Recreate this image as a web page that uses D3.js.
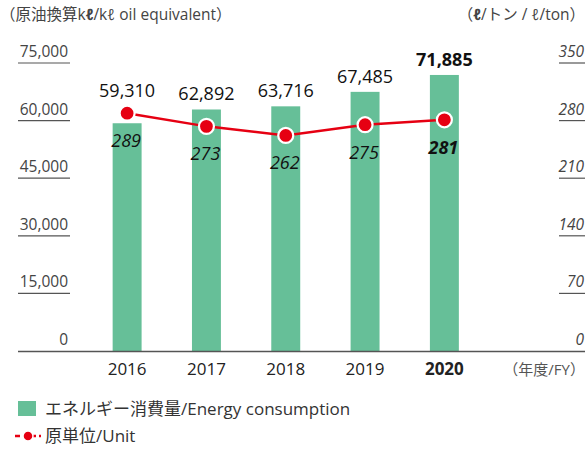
<!DOCTYPE html>
<html><head><meta charset="utf-8">
<script src="https://cdn.jsdelivr.net/npm/d3@7"></script>
<style>body{margin:0;background:#fff}svg{display:block}text{font-family:"Open Sans","Noto Sans CJK JP",sans-serif}</style>
</head><body>
<script>
const years = ["2016","2017","2018","2019","2020"];
const energy = [59310, 62892, 63716, 67485, 71885];
const unit = [289, 273, 262, 275, 281];
const leftTicks = [0, 15000, 30000, 45000, 60000, 75000];
const rightTicks = [0, 70, 140, 210, 280, 350];

const W = 585, H = 450;
const svg = d3.select("body").append("svg").attr("width", W).attr("height", H);
const green = "#66bf98", red = "#e60012";
const jp = '"Noto Sans CJK JP","Open Sans",sans-serif';

const x = d3.scaleBand().domain(years).range([87.5, 484]).paddingInner(0.635).paddingOuter(0.317);
const yL = d3.scaleLinear().domain([0, 75000]).range([351, 63]);
const yR = d3.scaleLinear().domain([0, 350]).range([351, 63]);
const fmt = d3.format(",");

const lt = svg.append("g");
leftTicks.forEach(t => {
  if (t !== 0) lt.append("line").attr("x1", 18).attr("x2", 70).attr("y1", yL(t)).attr("y2", yL(t)).attr("stroke", "#555").attr("stroke-width", 1.2);
  lt.append("text").attr("x", 68).attr("y", yL(t) - 6).attr("text-anchor", "end").attr("font-size", 15.5).attr("fill", "#444").text(fmt(t));
});
rightTicks.forEach(t => {
  if (t !== 0) lt.append("line").attr("x1", 559).attr("x2", 585).attr("y1", yR(t)).attr("y2", yR(t)).attr("stroke", "#555").attr("stroke-width", 1.2);
  lt.append("text").attr("x", 584).attr("y", yR(t) - 6).attr("text-anchor", "end").attr("font-size", 15.5).attr("font-style", "italic").attr("fill", "#444").text(t);
});

svg.append("g").selectAll("rect").data(years).join("rect")
  .attr("x", d => x(d)).attr("width", x.bandwidth())
  .attr("y", (d, i) => yL(energy[i])).attr("height", (d, i) => yL(0) - yL(energy[i]))
  .attr("fill", green);

svg.append("line").attr("x1", 18).attr("x2", 585).attr("y1", 351.5).attr("y2", 351.5).attr("stroke", "#555").attr("stroke-width", 1.3);

const cx = d => x(d) + x.bandwidth() / 2;
svg.append("path").datum(years)
  .attr("d", d3.line().x(d => cx(d)).y((d, i) => yR(unit[i])))
  .attr("fill", "none").attr("stroke", red).attr("stroke-width", 2.5);
svg.append("g").selectAll("circle").data(years).join("circle")
  .attr("cx", d => cx(d)).attr("cy", (d, i) => yR(unit[i])).attr("r", 7.5)
  .attr("fill", red).attr("stroke", "#fff").attr("stroke-width", 2.2);

svg.append("g").selectAll("text").data(years).join("text")
  .attr("x", d => cx(d))
  .attr("y", (d, i) => Math.min(yL(energy[i]), yR(unit[i]) - 7) - 9)
  .attr("text-anchor", "middle").attr("font-size", 18).attr("fill", "#111")
  .attr("font-weight", (d, i) => i === years.length - 1 ? "bold" : "normal")
  .text((d, i) => fmt(energy[i]));

svg.append("g").selectAll("text").data(years).join("text")
  .attr("x", d => cx(d) - 1)
  .attr("y", (d, i) => yR(unit[i]) + 34)
  .attr("text-anchor", "middle").attr("font-size", 18).attr("font-style", "italic").attr("fill", "#111")
  .attr("font-weight", (d, i) => i === years.length - 1 ? "bold" : "normal")
  .text((d, i) => unit[i]);

svg.append("g").selectAll("text").data(years).join("text")
  .attr("x", d => cx(d)).attr("y", 375)
  .attr("text-anchor", "middle").attr("font-size", 17).attr("fill", "#222")
  .attr("font-weight", (d, i) => i === years.length - 1 ? "bold" : "normal")
  .text(d => d);
svg.append("text").attr("x", 585).attr("y", 375).attr("text-anchor", "end").attr("font-size", 15).attr("fill", "#555").attr("font-family", jp).text("（年度/FY）");

svg.append("text").attr("x", 0).attr("y", 20).attr("font-size", 15.5).attr("fill", "#444").attr("font-family", jp)
  .html('（原油換算k<tspan font-weight="bold" font-style="italic">ℓ</tspan>/kℓ oil equivalent）');
svg.append("text").attr("x", 585).attr("y", 20).attr("text-anchor", "end").attr("font-size", 15.5).attr("fill", "#444").attr("font-family", jp)
  .html('（<tspan font-weight="bold" font-style="italic">ℓ</tspan>/トン / ℓ/ton）');

svg.append("rect").attr("x", 18).attr("y", 401).attr("width", 18).attr("height", 15).attr("fill", green);
svg.append("text").attr("x", 45).attr("y", 415).attr("font-size", 17).attr("fill", "#333").attr("font-family", jp).text("エネルギー消費量/Energy consumption");
svg.append("line").attr("x1", 15).attr("x2", 41).attr("y1", 436).attr("y2", 436).attr("stroke", red).attr("stroke-width", 2.5).attr("stroke-dasharray", "5,3");
svg.append("circle").attr("cx", 28).attr("cy", 436).attr("r", 5).attr("fill", red).attr("stroke", "#fff").attr("stroke-width", 1.5);
svg.append("text").attr("x", 45).attr("y", 442).attr("font-size", 17).attr("fill", "#333").attr("font-family", jp).text("原単位/Unit");
</script>
</body></html>
